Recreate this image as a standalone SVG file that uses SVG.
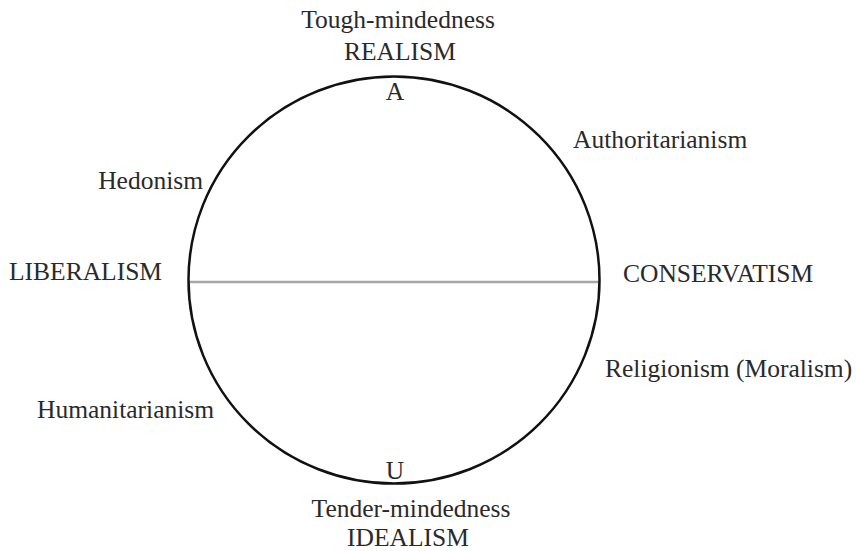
<svg xmlns="http://www.w3.org/2000/svg" width="856" height="551" viewBox="0 0 856 551">
<style>
text { font-family: "Liberation Serif", "Times New Roman", serif; font-size: 25.5px; fill: #2a2a2a; }
.mid { text-anchor: middle; }
.end { text-anchor: end; }
</style>
<rect width="856" height="551" fill="#ffffff"/>
<g id="connectors">
<line x1="189" y1="282" x2="599" y2="282" stroke="#a6a6a6" stroke-width="2.5"/>
</g>
<g id="circle">
<ellipse cx="394" cy="280" rx="205.5" ry="203.5" fill="none" stroke="#111111" stroke-width="2.5"/>
</g>
<g id="top">
<text class="mid" x="398" y="28">Tough-mindedness</text>
<text class="mid" x="400" y="60">REALISM</text>
<text class="mid" x="395" y="100">A</text>
</g>
<g id="bottom">
<text class="mid" x="395" y="479">U</text>
<text class="mid" x="411" y="517">Tender-mindedness</text>
<text class="mid" x="408" y="546">IDEALISM</text>
</g>
<g id="hedonism"><text class="end" x="203" y="189">Hedonism</text></g>
<g id="liberalism"><text x="9" y="280">LIBERALISM</text></g>
<g id="authoritarianism"><text x="573" y="148">Authoritarianism</text></g>
<g id="conservatism"><text x="623" y="282">CONSERVATISM</text></g>
<g id="religionism"><text x="605" y="377">Religionism (Moralism)</text></g>
<g id="humanitarianism"><text x="37" y="418">Humanitarianism</text></g>
</svg>
